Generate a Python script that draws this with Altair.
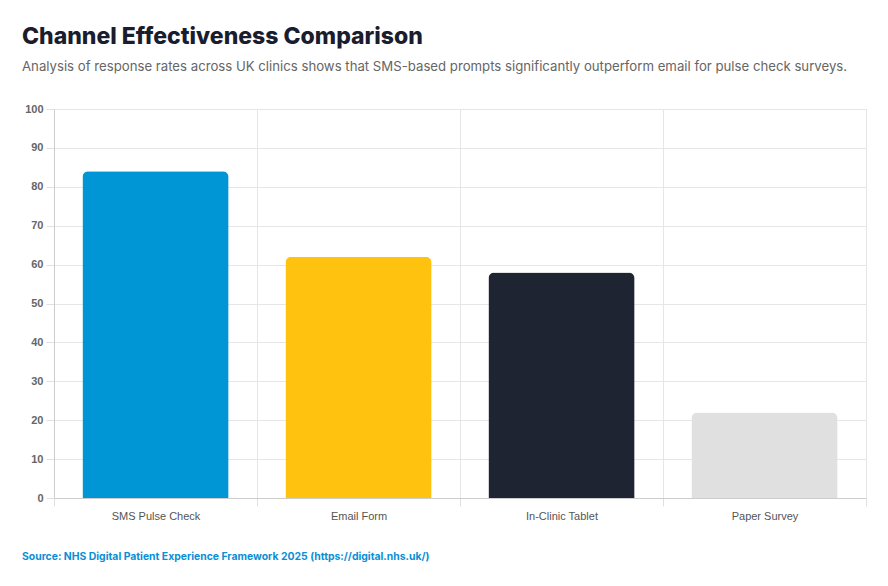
import altair as alt
import pandas as pd

channels = ["SMS Pulse Check", "Email Form", "In-Clinic Tablet", "Paper Survey"]
response_rates = [84, 62, 58, 22]
bar_colors = ["#0096D6", "#FFC20E", "#1F2433", "#E0E0E0"]
y_ticks = list(range(0, 101, 10))
title_text = "Channel Effectiveness Comparison"
subtitle_text = ("Analysis of response rates across UK clinics shows that SMS-based prompts "
                 "significantly outperform email for pulse check surveys.")
source_text = "Source: NHS Digital Patient Experience Framework 2025 (https://digital.nhs.uk/)"

df = pd.DataFrame({"channel": channels, "rate": response_rates})
src = pd.DataFrame({"t": [source_text]})

W, H = 812, 389

bars = alt.Chart(df).mark_bar(
    cornerRadiusTopLeft=6, cornerRadiusTopRight=6, width=alt.RelativeBandSize(0.72)
).encode(
    x=alt.X(
        "channel:N",
        sort=channels,
        scale=alt.Scale(paddingInner=0, paddingOuter=0),
        axis=alt.Axis(
            title=None, labelAngle=0, grid=True, tickBand="extent",
            gridColor="#e6e6e6", domainColor="#cccccc", tickColor="#e0e0e0",
            tickSize=8, labelPadding=4, labelFont="Liberation Sans",
            labelFontSize=11, labelColor="#555555",
        ),
    ),
    y=alt.Y(
        "rate:Q",
        scale=alt.Scale(domain=[0, 100]),
        axis=alt.Axis(
            title=None, values=y_ticks, grid=True, gridColor="#e6e6e6",
            domain=True, domainColor="#cccccc", tickColor="#e0e0e0", tickSize=8,
            labelPadding=3, labelFont="Liberation Sans", labelFontSize=11,
            labelColor="#666666", labelFontWeight="bold",
        ),
    ),
    color=alt.Color("channel:N", scale=alt.Scale(domain=channels, range=bar_colors), legend=None),
)

source = alt.Chart(src).mark_text(
    align="left", baseline="alphabetic", fontWeight="bold", fontSize=10.4,
    font="Inter", color="#0A8FD6",
).encode(x=alt.value(-32), y=alt.value(H + 62), text="t:N")

chart = alt.layer(bars, source).properties(
    width=W,
    height=H,
    autosize=alt.AutoSizeParams(type="none"),
    padding={"left": 46, "top": 101, "right": 14, "bottom": 70},
    title=alt.TitleParams(
        text=title_text,
        subtitle=subtitle_text,
        anchor="start",
        frame="group",
        dx=-32,
        offset=30,
        font="Inter",
        fontSize=23,
        fontWeight=800,
        color="#1A1D2E",
        subtitleFont="Inter",
        subtitleFontSize=13.2,
        subtitleColor="#666666",
        subtitlePadding=12,
    ),
).configure_view(stroke=None).configure(background="white")

chart.save("out.html", embed_options={"renderer": "svg", "actions": False})
